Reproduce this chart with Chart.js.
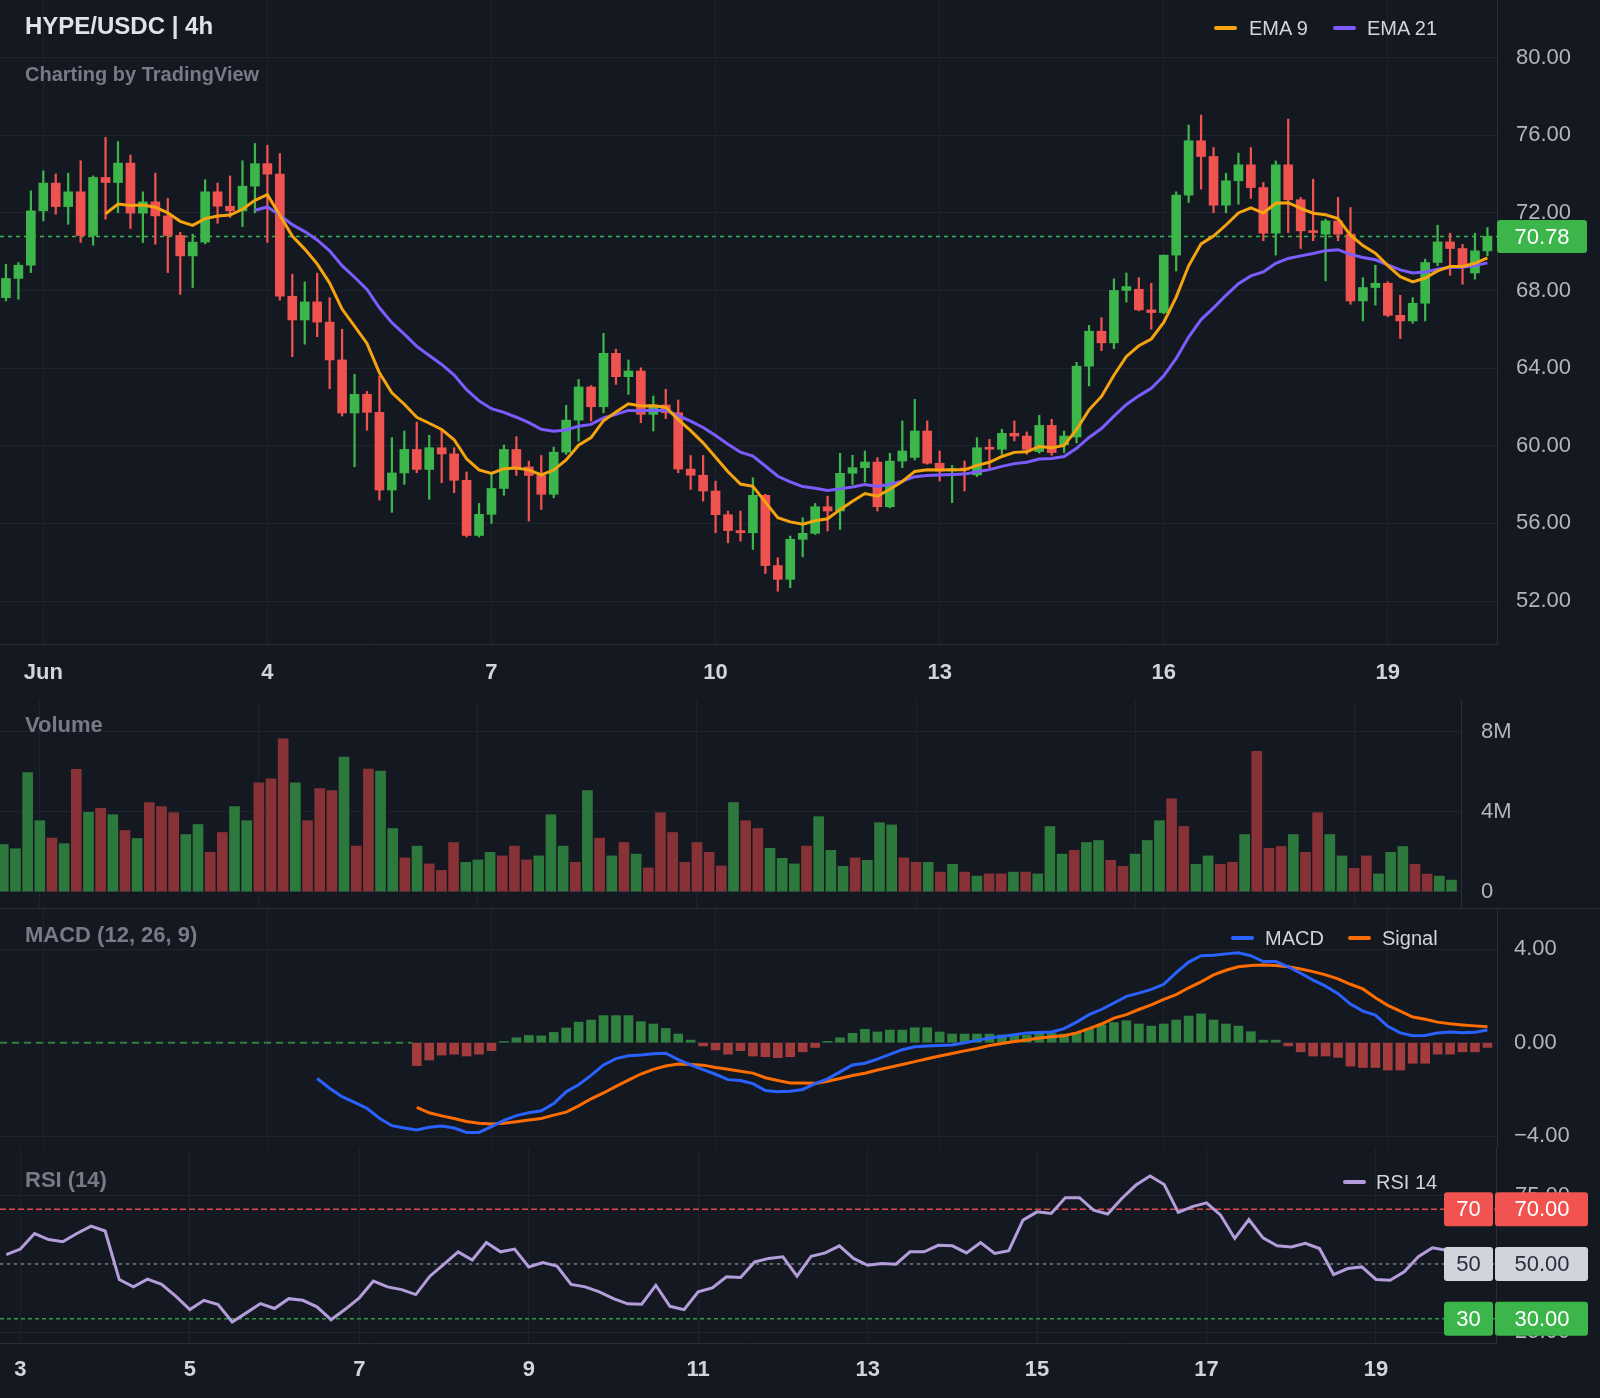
<!DOCTYPE html>
<html>
<head>
<meta charset="utf-8">
<title>HYPE/USDC | 4h</title>
<script src="https://cdn.jsdelivr.net/npm/chart.js@4.4.1/dist/chart.umd.min.js"></script>
<style>
  html, body { margin:0; padding:0; background:#141821; }
  body { width:1600px; height:1398px; position:relative; overflow:hidden; font-family:"Liberation Sans", Arial, Helvetica, sans-serif; }
  canvas { position:absolute; left:0; }
  .txt { position:absolute; white-space:nowrap; line-height:1; transform:translateY(-50%); }
  .title { font-size:24px; font-weight:bold; color:#dfe2ea; }
  .sub { font-size:20px; font-weight:bold; color:#787b86; }
  .pane { font-size:22px; font-weight:bold; color:#787b86; }
  .leg { font-size:20px; color:#d1d4dc; }
  .sw { position:absolute; width:23px; height:4px; border-radius:2px; transform:translateY(-50%); }
  .sep { position:absolute; left:0; width:1600px; height:1px; background:#2a2e39; }
</style>
</head>
<body>
<canvas id="priceChart" width="1600" height="700" style="top:0px"></canvas>
<canvas id="volumeChart" width="1600" height="208" style="top:700px"></canvas>
<canvas id="macdChart" width="1600" height="240" style="top:908px"></canvas>
<canvas id="rsiChart" width="1600" height="250" style="top:1148px"></canvas>
<div class="sep" style="top:908px"></div>

<div class="txt title" style="left:25px;top:26px">HYPE/USDC | 4h</div>
<div class="txt sub" style="left:25px;top:74px">Charting by TradingView</div>
<div class="sw" style="left:1214px;top:28px;background:#f5a30f"></div>
<div class="txt leg" style="left:1249px;top:28px">EMA 9</div>
<div class="sw" style="left:1333px;top:28px;background:#7c5cff"></div>
<div class="txt leg" style="left:1367px;top:28px">EMA 21</div>
<div class="txt pane" style="left:25px;top:725px">Volume</div>
<div class="txt pane" style="left:25px;top:935px">MACD (12, 26, 9)</div>
<div class="sw" style="left:1231px;top:938px;background:#2962ff"></div>
<div class="txt leg" style="left:1265px;top:938px">MACD</div>
<div class="sw" style="left:1348px;top:938px;background:#ff6d00"></div>
<div class="txt leg" style="left:1382px;top:938px">Signal</div>
<div class="txt pane" style="left:25px;top:1180px">RSI (14)</div>
<div class="sw" style="left:1343px;top:1182px;background:#b39ddb"></div>
<div class="txt leg" style="left:1376px;top:1182px">RSI 14</div>

<script>
// ---------------- DATA (4h candles, index 0 = Jun 1 00:00) ----------------
const candleStart = -3;
const opens = [
  67.63,68.62,69.30,72.10,73.53,72.32,73.08,70.83,73.82,73.56,
  74.56,71.98,72.56,71.84,70.83,69.78,70.49,73.08,72.34,72.10,
  73.37,74.53,73.99,67.70,66.48,67.41,66.37,64.42,61.69,62.65,
  61.72,57.72,58.60,59.81,58.78,59.90,59.58,58.22,55.38,56.47,
  57.80,59.81,58.91,58.47,57.50,59.67,61.32,63.03,62.01,64.76,
  63.56,63.85,61.62,62.10,61.70,58.80,58.48,57.67,56.45,55.63,
  55.52,57.45,53.83,53.12,55.18,55.49,56.86,56.64,58.58,58.87,
  59.16,56.86,59.21,59.40,60.76,59.10,58.70,58.82,58.50,59.90,
  59.82,60.64,60.50,59.70,61.05,60.05,60.45,64.10,65.90,65.30,
  68.00,68.06,67.00,66.86,69.82,72.91,75.71,74.90,72.39,73.65,
  74.47,73.30,70.95,74.47,72.67,71.07,70.90,71.58,70.90,67.46,
  68.15,68.37,66.72,66.43,67.34,69.44,70.50,70.16,68.90,70.04
];
const highs = [
  69.35,69.44,73.13,74.16,74.00,74.04,74.68,73.90,75.88,75.67,
  74.97,73.08,74.04,72.74,71.00,70.90,73.70,73.53,73.90,74.68,
  75.57,75.48,75.05,68.84,68.44,68.89,67.63,66.00,63.68,62.80,
  63.59,60.42,60.76,61.22,60.54,60.85,59.90,58.65,57.03,58.53,
  60.04,60.47,59.21,59.50,59.93,62.08,63.42,63.10,65.79,64.97,
  64.42,64.02,62.56,62.91,62.36,59.50,59.50,58.18,56.64,56.64,
  58.35,57.50,54.23,55.35,56.30,57.03,57.41,59.61,59.51,59.73,
  59.39,59.61,61.28,62.39,61.28,59.73,58.99,59.22,60.42,60.33,
  60.85,61.28,60.71,61.57,61.36,60.76,64.30,66.20,66.60,68.60,
  68.90,68.66,68.37,69.82,73.08,76.52,77.03,75.36,74.04,75.07,
  75.36,73.56,74.67,76.83,72.79,73.73,71.67,72.79,72.27,68.66,
  69.30,68.45,67.75,67.63,69.61,71.36,70.95,70.38,70.95,71.24
];
const lows = [
  67.46,67.55,68.92,71.58,71.93,71.41,70.47,70.33,71.67,72.00,
  71.19,70.47,70.38,68.92,67.80,68.15,70.40,71.46,71.76,71.29,
  72.00,70.47,67.50,64.59,65.23,65.62,62.94,61.53,58.92,60.80,
  57.20,56.57,58.01,58.61,57.24,58.10,57.58,55.30,55.30,56.00,
  57.45,58.47,56.12,56.72,57.32,59.55,60.24,61.27,61.70,63.16,
  62.65,61.19,60.76,61.40,58.61,57.75,57.15,55.52,55.00,55.09,
  54.66,53.42,52.51,52.69,54.28,55.43,55.61,55.69,58.01,58.13,
  56.64,56.80,58.87,59.27,59.05,58.18,57.07,57.67,58.41,58.87,
  59.56,60.25,59.56,59.62,59.51,59.65,60.15,63.08,64.90,65.00,
  67.40,66.95,66.00,66.80,69.00,72.53,73.22,72.00,72.00,72.44,
  72.74,70.56,69.82,70.98,70.16,70.56,68.49,70.56,67.29,66.43,
  67.24,66.65,65.52,66.31,66.43,69.27,68.78,68.32,68.58,69.78
];
const closes = [
  68.62,69.30,72.10,73.53,72.32,73.08,70.83,73.82,73.56,74.56,
  71.98,72.56,71.84,70.83,69.78,70.49,73.08,72.34,72.10,73.37,
  74.53,73.99,67.70,66.48,67.41,66.37,64.42,61.69,62.65,61.72,
  57.72,58.60,59.81,58.78,59.90,59.58,58.22,55.38,56.47,57.80,
  59.81,58.91,58.47,57.50,59.67,61.32,63.03,62.01,64.76,63.56,
  63.85,61.62,62.10,61.70,58.80,58.48,57.67,56.45,55.63,55.52,
  57.45,53.83,53.12,55.18,55.49,56.86,56.64,58.58,58.87,59.16,
  56.86,59.21,59.73,60.76,59.10,58.70,58.82,58.75,59.90,59.82,
  60.64,60.50,59.82,61.05,59.65,60.50,64.10,65.90,65.30,68.00,
  68.20,67.00,66.86,69.82,72.91,75.71,74.90,72.39,73.65,74.47,
  73.30,70.95,74.47,72.67,71.07,70.98,71.58,70.90,67.46,68.15,
  68.37,66.72,66.43,67.34,69.44,70.50,70.16,69.27,70.04,70.78
];
const volumesM = [
  2.36,2.15,5.95,3.55,2.68,2.40,6.12,3.97,4.17,3.85,
  3.06,2.66,4.46,4.25,3.95,2.86,3.36,1.97,2.96,4.25,
  3.55,5.44,5.64,7.64,5.44,3.55,5.16,5.06,6.73,2.28,
  6.13,6.03,3.16,1.69,2.28,1.39,1.07,2.46,1.47,1.59,
  1.97,1.79,2.28,1.59,1.79,3.85,2.28,1.47,5.06,2.68,
  1.79,2.46,1.88,1.19,3.95,2.96,1.47,2.46,1.97,1.29,
  4.46,3.55,3.16,2.17,1.67,1.39,2.28,3.75,2.07,1.27,
  1.69,1.57,3.45,3.34,1.69,1.47,1.47,0.98,1.37,0.98,
  0.78,0.89,0.89,0.98,0.98,0.89,3.26,1.88,2.07,2.46,
  2.56,1.57,1.27,1.88,2.56,3.55,4.64,3.26,1.37,1.79,
  1.37,1.47,2.86,7.02,2.17,2.26,2.86,1.97,3.95,2.86,
  1.79,1.17,1.79,0.89,1.97,2.26,1.37,0.88,0.78,0.58
];
const ema9Start = 5;
const ema9 = [
  71.95,72.45,72.38,72.40,72.29,72.00,71.56,71.35,71.70,71.83,
  71.88,72.18,72.64,72.93,71.88,70.80,70.13,69.37,68.38,67.04,
  66.16,65.27,63.76,62.73,62.14,61.47,61.16,60.84,60.31,59.33,
  58.76,58.58,58.82,58.85,58.76,58.50,58.75,59.27,60.03,60.42,
  61.29,61.74,62.16,62.05,62.06,61.99,61.35,60.78,60.15,59.41,
  58.66,58.03,57.91,57.10,56.30,56.08,55.96,56.14,56.24,56.71,
  57.14,57.54,57.40,57.76,58.16,58.68,58.76,58.75,58.76,58.76,
  58.99,59.15,59.45,59.66,59.69,59.96,59.90,60.02,60.84,61.85,
  62.54,63.63,64.60,65.15,65.50,66.35,67.66,69.27,70.40,70.80,
  71.37,71.99,72.25,71.99,72.49,72.52,72.23,71.98,71.90,71.70,
  70.85,70.31,69.92,69.28,68.71,68.44,68.64,69.01,69.24,69.24,
  69.40,69.68
];
const ema21Start = 17;
const ema21 = [
  72.13,72.30,71.88,71.39,71.03,70.60,70.04,69.28,68.68,68.05,
  67.11,66.34,65.75,65.12,64.65,64.19,63.64,62.89,62.31,61.91,
  61.72,61.47,61.19,60.85,60.75,60.81,61.01,61.10,61.43,61.62,
  61.82,61.80,61.83,61.82,61.55,61.27,60.94,60.53,60.08,59.67,
  59.47,58.96,58.43,58.14,57.90,57.81,57.70,57.78,57.88,58.00,
  57.90,58.02,58.18,58.41,58.47,58.49,58.52,58.54,58.66,58.77,
  58.94,59.08,59.15,59.32,59.35,59.45,59.87,60.43,60.89,61.53,
  62.13,62.57,62.96,63.60,64.50,65.60,66.50,67.10,67.75,68.35,
  68.75,68.95,69.40,69.65,69.78,69.90,70.05,70.10,69.86,69.70,
  69.58,69.32,69.06,68.90,68.95,69.09,69.19,69.20,69.28,69.42
];
const macdStart = 22;
const macdLine = [
  -1.53,-1.95,-2.31,-2.55,-2.81,-3.23,-3.55,-3.65,-3.73,-3.62,
  -3.56,-3.65,-3.84,-3.84,-3.59,-3.32,-3.12,-3.00,-2.91,-2.60,
  -2.10,-1.80,-1.40,-0.95,-0.68,-0.56,-0.53,-0.47,-0.45,-0.72,
  -0.95,-1.15,-1.35,-1.58,-1.62,-1.75,-2.05,-2.10,-2.08,-2.00,
  -1.75,-1.55,-1.25,-0.95,-0.88,-0.70,-0.50,-0.30,-0.17,-0.14,
  -0.12,-0.10,0.00,0.10,0.20,0.27,0.34,0.42,0.44,0.46,
  0.60,0.88,1.20,1.42,1.70,1.98,2.12,2.28,2.50,3.00,
  3.45,3.72,3.74,3.80,3.85,3.72,3.47,3.47,3.25,2.97,
  2.68,2.42,2.10,1.65,1.35,1.18,0.70,0.42,0.30,0.31,
  0.42,0.46,0.43,0.45,0.54
];
const signalStart = 30;
const signalLine = [
  -2.77,-3.00,-3.13,-3.24,-3.37,-3.45,-3.48,-3.45,-3.38,-3.31,
  -3.24,-3.10,-2.97,-2.70,-2.40,-2.15,-1.87,-1.60,-1.34,-1.14,
  -1.00,-0.91,-0.93,-0.96,-1.06,-1.14,-1.22,-1.30,-1.50,-1.62,
  -1.72,-1.72,-1.74,-1.65,-1.53,-1.40,-1.31,-1.17,-1.05,-0.93,
  -0.81,-0.69,-0.57,-0.46,-0.35,-0.25,-0.12,-0.03,0.05,0.12,
  0.20,0.25,0.30,0.42,0.60,0.80,1.05,1.20,1.42,1.62,
  1.85,2.06,2.35,2.60,2.90,3.10,3.25,3.30,3.32,3.30,
  3.25,3.15,3.04,2.90,2.73,2.50,2.30,1.92,1.60,1.35,
  1.10,1.00,0.88,0.81,0.76,0.72,0.68
];
const histStart = 30;
const macdHist = [
  -0.98,-0.74,-0.53,-0.49,-0.57,-0.49,-0.34,0.05,0.21,0.31,
  0.29,0.44,0.63,0.88,0.97,1.16,1.16,1.16,0.90,0.80,
  0.61,0.37,0.11,-0.14,-0.31,-0.49,-0.34,-0.57,-0.60,-0.64,
  -0.60,-0.39,-0.20,0.06,0.21,0.40,0.57,0.46,0.54,0.54,
  0.64,0.64,0.46,0.37,0.37,0.37,0.37,0.33,0.33,0.33,
  0.40,0.40,0.37,0.40,0.61,0.76,0.86,0.94,0.80,0.71,
  0.80,0.97,1.14,1.23,0.97,0.80,0.71,0.47,0.11,0.11,
  -0.14,-0.39,-0.57,-0.57,-0.63,-1.00,-1.06,-1.06,-1.17,-1.17,
  -0.88,-0.88,-0.49,-0.49,-0.39,-0.39,-0.20
];
const rsiStart = 11;
const rsi14 = [
  53.4,55.4,61.1,58.9,58.1,61.1,63.8,62.0,44.3,41.6,
  44.4,42.5,38.2,33.3,36.7,35.1,28.8,32.1,35.5,33.7,
  37.3,36.7,34.3,29.6,33.4,37.6,43.7,41.6,40.6,38.8,
  45.5,49.9,54.4,51.4,57.8,54.4,55.4,48.9,50.5,49.2,
  42.5,41.6,39.8,37.3,35.4,35.3,42.2,34.5,33.3,39.8,
  41.2,45.3,45.0,50.7,52.0,52.6,45.5,52.8,54.0,56.6,
  52.0,49.5,50.1,49.9,54.4,54.4,56.8,56.6,54.0,57.8,
  53.8,54.8,66.0,69.0,68.4,74.2,74.2,69.6,68.2,73.9,
  78.8,82.1,79.0,68.8,70.9,72.3,67.8,59.3,66.2,59.5,
  56.6,56.2,57.5,55.6,46.1,48.3,48.9,44.3,44.0,47.1,
  52.6,55.9,55.0
];
const priceTicks = [52,56,60,64,68,72,76,80];
const dayTicks = [0,18,36,54,72,90,108];
const dayLabels = ['Jun','4','7','10','13','16','19'];
const rsiDayTicks = [12,24,36,48,60,72,84,96,108];
const rsiDayLabels = ['3','5','7','9','11','13','15','17','19'];
const volumeTicks = [0,4,8];
const macdTicks = [-4,0,4];
const rsiTicks = [25,50,75];
const rsiLevels = [70,50,30];

// ---------------- STYLE / LAYOUT ----------------
const FONT = '"Liberation Sans", Arial, sans-serif';
const GRID = '#1f232e';
const BORDER = '#2a2e39';
const AXIS_TEXT = '#b2b5be';
const UP = '#3cb54a', DOWN = '#ef5350';
const VOL_UP = '#2d783c', VOL_DOWN = '#873237';
const HIST_UP = '#30813f', HIST_DOWN = '#a33c3c';

const PX_MIN = -3.478, PX_MAX = 116.77;   // price & MACD panes
const VX_MIN = -3.27,  VX_MAX = 116.78;   // volume pane
const RX_MIN = 10.555, RX_MAX = 116.5;    // RSI pane

function series(start, values) { return values.map((v, k) => ({ x: start + k, y: v })); }
function fixedTicks(list) { return scale => { scale.ticks = list.map(v => ({ value: v })); }; }
function noPad(s) { s.paddingTop = 0; s.paddingBottom = 0; s.paddingLeft = 0; s.paddingRight = 0; }
function rr(ctx, x, y, w, h, r) {
  ctx.beginPath();
  ctx.moveTo(x + r, y); ctx.lineTo(x + w - r, y); ctx.quadraticCurveTo(x + w, y, x + w, y + r);
  ctx.lineTo(x + w, y + h - r); ctx.quadraticCurveTo(x + w, y + h, x + w - r, y + h);
  ctx.lineTo(x + r, y + h); ctx.quadraticCurveTo(x, y + h, x, y + h - r);
  ctx.lineTo(x, y + r); ctx.quadraticCurveTo(x, y, x + r, y); ctx.closePath();
}

const candleX = closes.map((_, k) => candleStart + k);
const upFlags = closes.map((c, k) => c >= opens[k]);
const candleColors = upFlags.map(u => u ? UP : DOWN);
const lastClose = closes[closes.length - 1];

const common = {
  responsive: false, animation: false, devicePixelRatio: 1, events: [],
  layout: { padding: 0 },
  plugins: { legend: { display: false }, tooltip: { enabled: false } }
};

function hiddenX(min, max, ticks) {
  return {
    type: 'linear', min, max, offset: false, bounds: 'data',
    grid: { color: GRID, drawTicks: false, offset: false },
    border: { display: false },
    ticks: { display: false },
    afterBuildTicks: fixedTicks(ticks),
    afterFit: s => { s.height = 0; noPad(s); }
  };
}
function shownX(min, max, ticks, labels, height, pad) {
  return {
    type: 'linear', min, max, offset: false, bounds: 'data',
    grid: { color: GRID, drawTicks: false, offset: false },
    border: { display: true, color: BORDER },
    afterBuildTicks: fixedTicks(ticks),
    ticks: { color: '#d1d4dc', font: { family: FONT, size: 22, weight: 'bold' }, padding: pad, maxRotation: 0, autoSkip: false,
             callback: v => labels[ticks.indexOf(v)] },
    afterFit: s => { s.height = height; noPad(s); }
  };
}
function rightY(min, max, ticks, cb, width, pad) {
  return {
    type: 'linear', position: 'right', min, max, bounds: 'data',
    grid: { color: GRID, drawTicks: false },
    border: { display: true, color: BORDER },
    afterBuildTicks: fixedTicks(ticks),
    ticks: { color: AXIS_TEXT, font: { family: FONT, size: 22 }, padding: pad, callback: cb },
    afterFit: s => { s.width = width; noPad(s); }
  };
}

// ---------------- PRICE PANE ----------------
const priceTag = {
  id: 'priceTag',
  afterDraw(chart) {
    const ctx = chart.ctx, y = chart.scales.y.getPixelForValue(lastClose), x = chart.chartArea.right;
    ctx.save();
    ctx.fillStyle = UP; rr(ctx, x, y - 16.5, 90, 33, 3); ctx.fill();
    ctx.fillStyle = '#ffffff'; ctx.font = '22px ' + FONT;
    ctx.textAlign = 'center'; ctx.textBaseline = 'middle';
    ctx.fillText(lastClose.toFixed(2), x + 45, y + 1);
    ctx.restore();
  }
};

new Chart(document.getElementById('priceChart'), {
  type: 'bar',
  data: {
    datasets: [
      { type: 'line', label: 'EMA 9', data: series(ema9Start, ema9), borderColor: '#f5a30f', borderWidth: 3, pointRadius: 0, tension: 0, order: 0 },
      { type: 'line', label: 'EMA 21', data: series(ema21Start, ema21), borderColor: '#7c5cff', borderWidth: 3, pointRadius: 0, tension: 0, order: 1 },
      { type: 'bar', label: 'Body', data: candleX.map((x, k) => ({ x, y: [opens[k], closes[k]] })), backgroundColor: candleColors, barThickness: 9, minBarLength: 2, grouped: false, order: 2 },
      { type: 'bar', label: 'Wick', data: candleX.map((x, k) => ({ x, y: [lows[k], highs[k]] })), backgroundColor: candleColors, barThickness: 1.6, grouped: false, order: 3 },
      { type: 'line', label: 'Last', data: [{ x: PX_MIN, y: lastClose }, { x: PX_MAX, y: lastClose }], borderColor: UP, borderWidth: 1.5, borderDash: [4, 4], pointRadius: 0, order: 4 }
    ]
  },
  options: {
    ...common,
    scales: {
      x: shownX(PX_MIN, PX_MAX, dayTicks, dayLabels, 56, 16),
      y: rightY(49.79, 82.96, priceTicks, v => v.toFixed(2), 103, 19)
    }
  },
  plugins: [priceTag]
});

// ---------------- VOLUME PANE ----------------
new Chart(document.getElementById('volumeChart'), {
  type: 'bar',
  data: {
    datasets: [
      { label: 'Volume', data: series(candleStart, volumesM), backgroundColor: upFlags.map(u => u ? VOL_UP : VOL_DOWN), barThickness: 10, grouped: false }
    ]
  },
  options: {
    ...common,
    scales: {
      x: hiddenX(VX_MIN, VX_MAX, dayTicks),
      y: rightY(-0.815, 9.585, volumeTicks, v => v === 0 ? '0' : v + 'M', 139, 20)
    }
  }
});

// ---------------- MACD PANE ----------------
new Chart(document.getElementById('macdChart'), {
  type: 'bar',
  data: {
    datasets: [
      { type: 'line', label: 'MACD', data: series(macdStart, macdLine), borderColor: '#2962ff', borderWidth: 3, pointRadius: 0, tension: 0, order: 0 },
      { type: 'line', label: 'Signal', data: series(signalStart, signalLine), borderColor: '#ff6d00', borderWidth: 3, pointRadius: 0, tension: 0, order: 1 },
      { type: 'bar', label: 'Histogram', data: series(histStart, macdHist), backgroundColor: macdHist.map(v => v >= 0 ? HIST_UP : HIST_DOWN), barThickness: 9, grouped: false, order: 2 },
      { type: 'line', label: 'Zero', data: [{ x: PX_MIN, y: 0 }, { x: histStart - 0.4, y: 0 }], borderColor: HIST_UP, borderWidth: 2, borderDash: [7, 5], pointRadius: 0, order: 3 }
    ]
  },
  options: {
    ...common,
    scales: {
      x: hiddenX(PX_MIN, PX_MAX, dayTicks),
      y: rightY(-4.505, 5.763, macdTicks, v => (v < 0 ? '\u2212' : '') + Math.abs(v).toFixed(2), 103, 17)
    }
  }
});

// ---------------- RSI PANE ----------------
const levelStyle = {
  70: { line: '#e04a4a', box: '#f05350', text: '#ffffff', dash: [6, 3] },
  50: { line: '#7b7e88', box: '#d1d4dc', text: '#2a2e39', dash: [3, 4] },
  30: { line: '#2f9a45', box: '#3cb54a', text: '#ffffff', dash: [4, 3] }
};
const rsiBoxes = {
  id: 'rsiBoxes',
  afterDraw(chart) {
    const ctx = chart.ctx, x = chart.chartArea.right;
    ctx.save();
    ctx.font = '22px ' + FONT; ctx.textAlign = 'center'; ctx.textBaseline = 'middle';
    rsiLevels.forEach(lv => {
      const st = levelStyle[lv], y = chart.scales.y.getPixelForValue(lv);
      ctx.fillStyle = st.box;
      rr(ctx, x - 52, y - 17, 49, 34, 3); ctx.fill();
      rr(ctx, x - 1, y - 17, 93, 34, 3); ctx.fill();
      ctx.fillStyle = st.text;
      ctx.fillText(String(lv), x - 27.5, y + 1);
      ctx.fillText(lv.toFixed(2), x + 46, y + 1);
    });
    ctx.restore();
  }
};

new Chart(document.getElementById('rsiChart'), {
  type: 'line',
  data: {
    datasets: [
      { label: 'RSI 14', data: series(rsiStart, rsi14), borderColor: '#b39ddb', borderWidth: 3, pointRadius: 0, tension: 0, order: 0 },
      ...rsiLevels.map((lv, k) => ({
        label: 'Level ' + lv, data: [{ x: RX_MIN, y: lv }, { x: RX_MAX, y: lv }],
        borderColor: levelStyle[lv].line, borderWidth: 1.5, borderDash: levelStyle[lv].dash, pointRadius: 0, order: 1 + k
      }))
    ]
  },
  options: {
    ...common,
    scales: {
      x: shownX(RX_MIN, RX_MAX, rsiDayTicks, rsiDayLabels, 55, 14),
      y: rightY(21.1, 92.33, rsiTicks, v => v.toFixed(2), 104, 19)
    }
  },
  plugins: [rsiBoxes]
});
</script>
</body>
</html>
